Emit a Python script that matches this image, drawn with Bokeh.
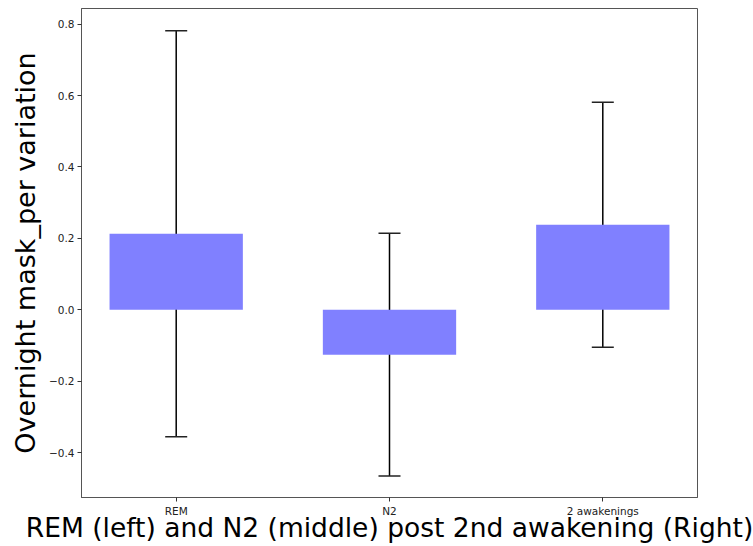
from bokeh.plotting import figure
from bokeh.models import (ColumnDataSource, Range1d, FixedTicker, Whisker, TeeHead,
                          CustomJSTickFormatter)
from bokeh.embed import file_html
from bokeh.resources import INLINE

# ---- data ----
categories = ["REM", "N2", "2 awakenings"]
means = [0.213, -0.126, 0.238]
errors = [0.569, 0.340, 0.343]
y_ticks = [-0.4, -0.2, 0.0, 0.2, 0.4, 0.6, 0.8]
x_title = "REM (left) and N2 (middle) post 2nd awakening (Right)"
y_title = "Overnight mask_per variation"

xs = list(range(len(categories)))
lower = [m - e for m, e in zip(means, errors)]
upper = [m + e for m, e in zip(means, errors)]
src = ColumnDataSource(dict(x=xs, top=means, lower=lower, upper=upper))

FONT = "DejaVu Sans"

p = figure(width=753, height=546, output_backend="svg", toolbar_location=None,
           x_range=Range1d(-0.444, 2.444), y_range=Range1d(-0.526, 0.844),
           min_border_left=81, min_border_right=56, min_border_top=8, min_border_bottom=49)
p.background_fill_color = "white"
p.border_fill_color = "white"
p.outline_line_color = "#555555"
p.outline_line_width = 1
p.xgrid.visible = False
p.ygrid.visible = False

p.vbar(x="x", top="top", bottom=0, width=0.625, source=src,
       fill_color="#8080ff", line_color=None)

w = Whisker(base="x", lower="lower", upper="upper", source=src,
            line_color="black", line_width=1.5,
            upper_head=TeeHead(size=22, line_color="#222222", line_width=1.5),
            lower_head=TeeHead(size=22, line_color="#222222", line_width=1.5))
p.add_layout(w)

for ax in (p.xaxis[0], p.yaxis[0]):
    ax.axis_line_color = "#555555"
    ax.major_tick_line_color = "#333333"
    ax.major_tick_out = 4
    ax.major_tick_in = 0
    ax.minor_tick_line_color = None
    ax.major_label_text_font = FONT
    ax.major_label_text_font_size = "10.5px"
    ax.major_label_text_color = "#222222"
    ax.major_label_standoff = 3
    ax.axis_label_text_font = FONT
    ax.axis_label_text_font_style = "normal"
    ax.axis_label_text_color = "black"

p.xaxis.ticker = FixedTicker(ticks=xs)
p.xaxis.major_label_overrides = {i: c for i, c in zip(xs, categories)}
p.xaxis.axis_label = x_title
p.xaxis.axis_label_text_font_size = "26.5px"
p.xaxis.axis_label_standoff = -8
p.yaxis.ticker = FixedTicker(ticks=y_ticks)
p.yaxis.formatter = CustomJSTickFormatter(code="return tick.toFixed(1).replace('-', '\u2212');")
p.yaxis.axis_label = y_title
p.yaxis.axis_label_text_font_size = "27px"
p.yaxis.axis_label_standoff = 5

open("out.html", "w").write(file_html(p, INLINE))
